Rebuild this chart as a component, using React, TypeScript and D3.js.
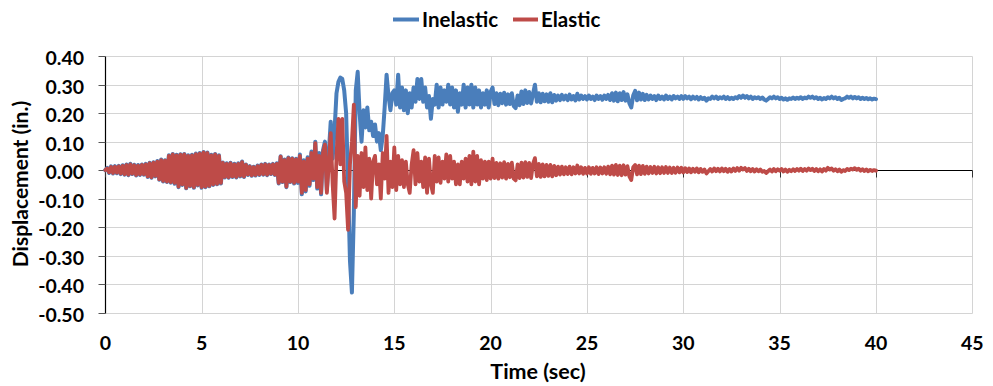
import React from "react";
import * as d3 from "d3";

// sample interval of both records (seconds)
const timeStep = 0.1;

// Displacements in thousandths of an inch, one value every 0.1 s
const inelastic0to10 = [
  0, 8, -10, 13, -12, 14, -11, 15, -14, 17,
  -16, 20, -18, 22, -14, 19, -19, 18, -17, 20,
  -16, 22, -24, 26, -27, 28, -22, 32, -34, 37,
  -40, 35, -42, 52, -44, 57, -48, 54, -60, 56,
  -52, 57, -64, 52, -57, 54, -62, 58, -54, 60,
  -62, 64, -60, 62, -57, 54, -52, 57, -50, 52,
  -47, 27, -26, 24, -27, 26, -24, 22, -26, 24,
  -22, 30, -24, 20, -17, 14, -20, 12, -19, 16,
  -17, 20, -16, 22, -18, 20, -14, 22, -17, 24,
  -47, 49, -42, 37, -60, 44, -42, 42, -47, 40,
];
const inelastic10to20 = [
  -45, 55, -85, 35, -75, 45, -55, 65, -35, 100,
  -65, 60, -85, 70, 100, -70, 60, 170, 40, 140,
  270, 310, 325, 320, 280, 200, -50, -320, -430, -150,
  280, 345, 200, 100, 210, 150, 220, 140, 170, 120,
  160, 100, 130, 70, 120, 220, 335, 260, 210, 270,
  280, 230, 335, 220, 290, 210, 280, 200, 270, 220,
  290, 240, 320, 250, 320, 240, 290, 220, 260, 180,
  250, 230, 300, 220, 290, 230, 280, 240, 300, 230,
  290, 220, 280, 205, 270, 230, 300, 220, 290, 230,
  300, 220, 290, 230, 280, 220, 270, 230, 280, 220,
];
const inelastic20to30 = [
  275, 290, 232, 270, 228, 268, 235, 272, 230, 266,
  232, 270, 225, 218, 262, 228, 276, 232, 280, 236,
  274, 234, 268, 300, 240, 270, 238, 268, 242, 266,
  240, 270, 238, 264, 244, 262, 246, 264, 248, 262,
  246, 265, 248, 260, 245, 268, 248, 262, 250, 260,
  248, 262, 250, 258, 246, 262, 250, 260, 247, 262,
  250, 264, 246, 270, 244, 272, 242, 270, 246, 274,
  244, 266, 235, 220, 262, 278, 245, 272, 248, 268,
  246, 264, 248, 262, 250, 260, 246, 262, 250, 258,
  248, 262, 250, 258, 248, 260, 252, 258, 250, 260,
];
const inelastic30to40 = [
  250, 260, 252, 258, 249, 258, 251, 257, 248, 256,
  250, 254, 244, 252, 250, 258, 252, 258, 250, 256,
  252, 258, 250, 256, 249, 254, 250, 256, 252, 260,
  254, 262, 254, 260, 252, 258, 250, 256, 252, 256,
  250, 255, 248, 244, 250, 256, 252, 258, 252, 256,
  250, 254, 248, 252, 247, 252, 250, 255, 250, 254,
  251, 256, 250, 255, 252, 258, 254, 258, 252, 256,
  250, 254, 248, 253, 250, 256, 252, 258, 252, 256,
  250, 254, 246, 250, 252, 258, 254, 258, 252, 257,
  252, 256, 250, 254, 250, 253, 249, 252, 248, 251,
  249,
];

const elastic0to10 = [
  0, 6, -8, 11, -10, 12, -9, 13, -12, 15,
  -14, 18, -16, 20, -12, 17, -17, 16, -15, 18,
  -14, 20, -22, 24, -25, 26, -20, 30, -32, 35,
  -38, 33, -40, 50, -42, 55, -45, 52, -58, 54,
  -50, 55, -62, 50, -55, 52, -60, 56, -52, 58,
  -60, 62, -58, 60, -55, 52, -50, 55, -48, 50,
  -45, 25, -24, 22, -25, 24, -22, 20, -24, 22,
  -20, 28, -22, 18, -15, 12, -18, 10, -17, 14,
  -15, 18, -14, 20, -16, 18, -12, 20, -15, 22,
  -45, 47, -40, 35, -58, 42, -40, 40, -45, 38,
];
const elastic10to20 = [
  -40, 50, -80, 30, -70, 40, -50, 60, -30, 95,
  -60, 50, -80, 60, 90, -80, 20, 130, -50, -170,
  50, 180, 20, 180, -40, -80, -210, 20, 100, 230,
  -130, 50, -90, 60, -60, 80, -70, 40, -100, 30,
  50, -50, 20, -100, 60, -30, 120, -80, 30, -60,
  80, -70, 50, -50, 35, -60, 30, -50, -80, 20,
  70, -50, 60, -40, 30, -60, 45, -80, 40, -50,
  -80, 50, -40, 45, -45, 30, -30, 55, -40, 50,
  -30, 30, -50, 20, -50, 30, -30, 40, -40, 50,
  -50, 65, -40, 50, -50, 35, -30, 30, -35, 30,
];
const elastic20to30 = [
  -30, 40, -28, 25, -30, 24, -26, 28, -30, 22,
  -25, 26, -30, -36, 20, -28, 26, -26, 28, -24,
  25, -28, 22, 42, -22, 22, -24, 20, -22, 18,
  -20, 18, -22, 15, -18, 12, -16, 12, -15, 10,
  -14, 12, -15, 10, -12, 16, -12, 10, -13, 8,
  -12, 10, -13, 8, -12, 10, -14, 9, -12, 10,
  -13, 12, -15, 16, -16, 18, -17, 16, -18, 17,
  -16, 14, -22, -35, 10, 18, -15, 16, -14, 15,
  -13, 12, -12, 11, -10, 12, -12, 10, -11, 10,
  -10, 11, -10, 9, -10, 8, -9, 9, -8, 8,
];
const elastic30to40 = [
  -8, 7, -7, 6, -8, 5, -6, 6, -8, 4,
  -6, 2, -12, -4, 4, -5, 6, -4, 5, -5,
  6, -4, 5, -6, 4, -5, 6, -3, 7, -2,
  8, 2, 7, -3, 5, -4, 4, -5, 3, -4,
  2, -6, -3, -10, -4, 2, -5, 4, -4, 3,
  -2, 4, -5, 2, -6, 1, -4, 3, -3, 4,
  -2, 5, -3, 4, -2, 6, 0, 5, -3, 4,
  -4, 3, -5, 4, -2, 8, 2, 6, -2, 3,
  -4, 2, -6, 0, -3, 4, 0, 5, 2, 7,
  1, 5, -2, 3, -3, 2, -4, 1, -3, 0,
  -2,
];

const inelastic = [...inelastic0to10, ...inelastic10to20, ...inelastic20to30, ...inelastic30to40];
const elastic = [...elastic0to10, ...elastic10to20, ...elastic20to30, ...elastic30to40];

const xTicks = [0, 5, 10, 15, 20, 25, 30, 35, 40, 45];
const yTicks = [0.4, 0.3, 0.2, 0.1, 0.0, -0.1, -0.2, -0.3, -0.4, -0.5];

const seriesNames = ["Inelastic", "Elastic"];
const seriesColors = ["#4A7EBB", "#BE4B48"];

const W = 993;
const H = 386;
const FONT = "Lato, 'Open Sans', sans-serif";

export default function App() {
  const x = d3.scaleLinear().domain([0, 45]).range([105.3, 972.3]);
  const y = d3.scaleLinear().domain([-0.5, 0.4]).range([312.5, 56.2]);
  const line = d3
    .line<number>()
    .x((_, i) => x(i * timeStep))
    .y((d) => y(d / 1000));

  const px = (v: number) => Math.round(v) + 0.5;
  const left = px(x(0));
  const right = px(x(45));
  const top = px(y(0.4));
  const bottom = px(y(-0.5));
  const zeroY = px(y(0));

  return (
    <svg
      width={W}
      height={H}
      style={{ position: "absolute", left: 0, top: 0, background: "#fff" }}
      fontFamily={FONT}
    >
      <rect x={0} y={0} width={W} height={H} fill="#fff" />
      {/* grid */}
      {yTicks.map((t) => (
        <line key={"gy" + t} x1={left} x2={right} y1={px(y(t))} y2={px(y(t))} stroke="#d4d4d4" strokeWidth={1} />
      ))}
      {xTicks.slice(1).map((t) => (
        <line key={"gx" + t} x1={px(x(t))} x2={px(x(t))} y1={top} y2={bottom} stroke="#d4d4d4" strokeWidth={1} />
      ))}
      {/* y axis */}
      <line x1={left} x2={left} y1={top} y2={bottom} stroke="#000" strokeWidth={1.2} />
      {yTicks.map((t) => (
        <line key={"ty" + t} x1={left - 7} x2={left} y1={px(y(t))} y2={px(y(t))} stroke="#555" strokeWidth={1} />
      ))}
      {yTicks.map((t) => (
        <text
          key={"ly" + t}
          x={84}
          y={y(t) + 1.5}
          textAnchor="end"
          dominantBaseline="central"
          fontSize={19.5}
          fontWeight={700}
          fill="#000"
        >
          {t.toFixed(2)}
        </text>
      ))}
      {/* x axis at zero */}
      <line x1={left} x2={right} y1={zeroY} y2={zeroY} stroke="#000" strokeWidth={1.2} />
      {xTicks.map((t) => (
        <line key={"tx" + t} x1={px(x(t))} x2={px(x(t))} y1={zeroY} y2={zeroY + 7} stroke="#333" strokeWidth={1} />
      ))}
      {xTicks.map((t) => (
        <text key={"lx" + t} x={x(t)} y={349.5} textAnchor="middle" fontSize={19.5} fontWeight={700} fill="#000">
          {t}
        </text>
      ))}
      {/* series */}
      <path d={line(inelastic) || ""} fill="none" stroke={seriesColors[0]} strokeWidth={4} strokeLinejoin="round" strokeLinecap="round" />
      <path d={line(elastic) || ""} fill="none" stroke={seriesColors[1]} strokeWidth={3.8} strokeLinejoin="round" strokeLinecap="round" />
      {/* titles */}
      <text x={538} y={379} textAnchor="middle" fontSize={21.5} fontWeight={700} fill="#000">
        Time (sec)
      </text>
      <text transform="translate(28,184) rotate(-90)" textAnchor="middle" fontSize={21} fontWeight={700} fill="#000">
        Displacement (in.)
      </text>
      {/* legend */}
      <line x1={393} x2={419} y1={19.5} y2={19.5} stroke={seriesColors[0]} strokeWidth={4} />
      <text x={422} y={26.5} fontSize={20.5} fontWeight={700} fill="#000">
        {seriesNames[0]}
      </text>
      <line x1={513} x2={538} y1={19.5} y2={19.5} stroke={seriesColors[1]} strokeWidth={4} />
      <text x={541} y={26.5} fontSize={20.5} fontWeight={700} fill="#000">
        {seriesNames[1]}
      </text>
    </svg>
  );
}
